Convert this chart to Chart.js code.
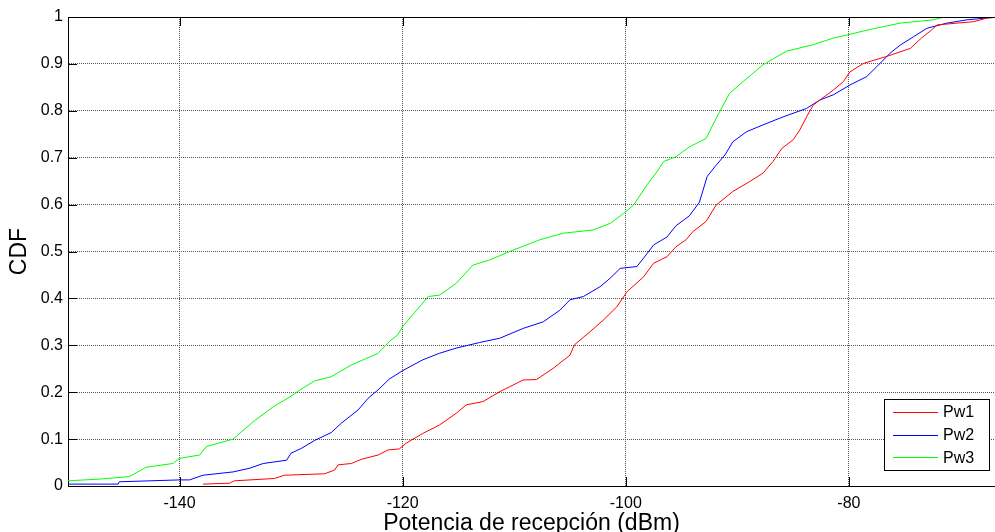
<!DOCTYPE html>
<html>
<head>
<meta charset="utf-8">
<script src="https://cdn.jsdelivr.net/npm/chart.js@4/dist/chart.umd.min.js"></script>
<style>
  html, body { margin: 0; padding: 0; background: #fff; }
  #wrap { width: 995px; height: 532px; }
</style>
</head>
<body>
<div id="wrap"><canvas id="cdfChart" width="995" height="532"></canvas></div>
<script>
// ===== Data =====
const seriesNames = ["Pw1", "Pw2", "Pw3"];

const pw1X = [-137.9,-135.5,-135.1,-131.5,-130.6,-127.0,-126.1,-125.8,-124.6,-123.7,-122.2,-121.3,-120.3,-119.7,-118.2,-116.7,-115.2,-114.3,-112.8,-111.3,-109.2,-108.0,-106.5,-105.0,-104.6,-103.2,-102.0,-100.8,-99.9,-98.4,-97.5,-96.3,-95.5,-94.6,-94.0,-92.8,-91.9,-90.4,-88.9,-87.7,-86.8,-86.0,-85.0,-84.4,-83.7,-83.2,-82.6,-81.4,-80.5,-79.9,-78.7,-76.6,-74.5,-73.5,-72.6,-72.1,-70.3,-68.8,-67.6,-66.5];
const pw1Y = [0.004,0.006,0.011,0.016,0.023,0.026,0.034,0.045,0.048,0.057,0.066,0.077,0.079,0.091,0.112,0.13,0.155,0.173,0.180,0.201,0.226,0.227,0.251,0.279,0.301,0.329,0.354,0.382,0.414,0.446,0.475,0.489,0.510,0.525,0.542,0.564,0.599,0.628,0.649,0.667,0.692,0.720,0.738,0.759,0.791,0.812,0.823,0.844,0.862,0.883,0.901,0.916,0.933,0.955,0.972,0.983,0.987,0.990,0.998,1.0];

const pw2X = [-150,-145.5,-145.4,-140,-139.1,-137.9,-135.2,-133.7,-132.5,-130.4,-130,-129.1,-127.9,-126.4,-125.5,-124.0,-123.1,-122.2,-121.2,-120.0,-118.2,-116.7,-115.2,-113.1,-111.3,-109.2,-107.4,-105.9,-105.0,-103.8,-102.3,-101.4,-100.5,-99.0,-98.4,-97.5,-96.3,-95.5,-94.3,-93.4,-92.7,-91.9,-91.1,-90.4,-89.2,-87.7,-85.9,-83.8,-82.6,-81.4,-79.9,-78.4,-77.5,-76.3,-75.4,-74.2,-73.0,-71.2,-69.4,-67.6,-66.5];
const pw2Y = [0.004,0.004,0.009,0.013,0.013,0.023,0.030,0.038,0.048,0.055,0.07,0.08,0.097,0.114,0.134,0.162,0.187,0.205,0.228,0.246,0.269,0.283,0.294,0.306,0.315,0.336,0.350,0.375,0.397,0.404,0.425,0.443,0.464,0.468,0.486,0.514,0.531,0.555,0.576,0.605,0.66,0.684,0.706,0.734,0.755,0.770,0.787,0.805,0.823,0.834,0.855,0.873,0.894,0.923,0.940,0.958,0.976,0.987,0.994,0.998,1.0];

const pw3X = [-150,-147,-144.5,-143,-140.6,-140,-138.2,-137.6,-135.2,-133.4,-131.6,-130.1,-129.2,-127.9,-126.4,-124.6,-122.2,-121.2,-120.45,-120.0,-119.1,-117.7,-116.7,-115.2,-113.7,-112.2,-110.1,-107.7,-105.6,-102.9,-101.4,-100.2,-99.3,-98.1,-97.2,-96.6,-95.5,-94.3,-92.8,-91.9,-90.7,-89.5,-87.7,-85.6,-83.2,-81.4,-79.9,-78.4,-75.4,-72.4,-71.5,-66];
const pw3Y = [0.011,0.015,0.02,0.04,0.048,0.059,0.066,0.084,0.10,0.137,0.169,0.19,0.205,0.224,0.233,0.258,0.283,0.308,0.322,0.34,0.365,0.404,0.407,0.432,0.471,0.482,0.503,0.525,0.539,0.546,0.560,0.581,0.599,0.642,0.670,0.692,0.702,0.723,0.741,0.784,0.837,0.862,0.898,0.927,0.941,0.955,0.963,0.972,0.987,0.994,1.0,1.0];

const xTicks = [-140, -120, -100, -80];
const yTicks = [0, 0.1, 0.2, 0.3, 0.4, 0.5, 0.6, 0.7, 0.8, 0.9, 1];
const xLabel = "Potencia de recepción (dBm)";
const yLabel = "CDF";

const toPoints = (xs, ys) => xs.map((x, i) => ({ x: x, y: ys[i] }));

// ===== MATLAB-like frame: top border, inner ticks, legend box =====
const matlabFrame = {
  id: "matlabFrame",
  afterDraw(chart) {
    const ctx = chart.ctx;
    const a = chart.chartArea;
    const xs = chart.scales.x, ys = chart.scales.y;
    const tl = 9;
    ctx.save();
    ctx.strokeStyle = "#000";
    ctx.lineWidth = 1;
    ctx.beginPath();
    ctx.moveTo(a.left, a.top + 0.5);
    ctx.lineTo(a.right, a.top + 0.5);
    xTicks.forEach(v => {
      const px = Math.round(xs.getPixelForValue(v)) + 0.5;
      ctx.moveTo(px, a.bottom); ctx.lineTo(px, a.bottom - tl);
      ctx.moveTo(px, a.top); ctx.lineTo(px, a.top + tl);
    });
    yTicks.forEach(v => {
      const py = Math.round(ys.getPixelForValue(v)) + 0.5;
      ctx.moveTo(a.left, py); ctx.lineTo(a.left + tl, py);
    });
    ctx.stroke();

    // legend
    const bx = 884, by = 399, bw = 105, bh = 71;
    ctx.fillStyle = "#fff";
    ctx.fillRect(bx, by, bw, bh);
    ctx.strokeRect(bx + 0.5, by + 0.5, bw, bh);
    ctx.font = "16px 'Liberation Sans', Arial, sans-serif";
    ctx.textBaseline = "middle";
    ctx.textAlign = "left";
    chart.data.datasets.forEach((ds, i) => {
      const ry = by + 13 + i * 22.7;
      ctx.strokeStyle = ds.borderColor;
      ctx.beginPath();
      ctx.moveTo(bx + 9, Math.round(ry) + 0.5);
      ctx.lineTo(bx + 54, Math.round(ry) + 0.5);
      ctx.stroke();
      ctx.fillStyle = "#000";
      ctx.fillText(ds.label, bx + 59, ry + 1);
    });
    ctx.restore();
  }
};

const tickFont = { family: "'Liberation Sans', Arial, sans-serif", size: 16, lineHeight: 1 };
const titleFont = { family: "'Liberation Sans', Arial, sans-serif", size: 23, lineHeight: 1 };

new Chart(document.getElementById("cdfChart"), {
  type: "line",
  data: {
    datasets: [
      { label: seriesNames[0], data: toPoints(pw1X, pw1Y), borderColor: "#ff0000" },
      { label: seriesNames[1], data: toPoints(pw2X, pw2Y), borderColor: "#0000ff" },
      { label: seriesNames[2], data: toPoints(pw3X, pw3Y), borderColor: "#00ff00" }
    ].map(d => Object.assign(d, { borderWidth: 1, pointRadius: 0, tension: 0, fill: false }))
  },
  options: {
    responsive: false,
    animation: false,
    events: [],
    layout: { padding: { top: 17, right: 0, left: 0, bottom: 0 } },
    plugins: { legend: { display: false }, tooltip: { enabled: false } },
    scales: {
      x: {
        type: "linear",
        min: -150,
        max: -66.9,
        afterBuildTicks: s => { s.ticks = xTicks.map(v => ({ value: v })); },
        afterFit: s => { s.height = 46; },
        ticks: { font: tickFont, color: "#000", padding: 10, maxRotation: 0, autoSkip: false },
        grid: { color: "#555", drawTicks: false },
        border: { color: "#000", width: 1, dash: [1, 1] },
        title: { display: true, text: xLabel, font: titleFont, color: "#000", padding: { top: 0, bottom: -3 } }
      },
      y: {
        type: "linear",
        min: 0,
        max: 1,
        afterBuildTicks: s => { s.ticks = yTicks.map(v => ({ value: v })); },
        afterFit: s => { s.width = 68; },
        ticks: { font: tickFont, color: "#000", padding: 5, callback: v => String(+v.toFixed(1)) },
        grid: { color: "#555", drawTicks: false },
        border: { color: "#000", width: 1, dash: [1, 1] },
        title: { display: true, text: yLabel, font: titleFont, color: "#000", padding: { top: 8, bottom: 0 } }
      }
    }
  },
  plugins: [matlabFrame]
});
</script>
</body>
</html>
